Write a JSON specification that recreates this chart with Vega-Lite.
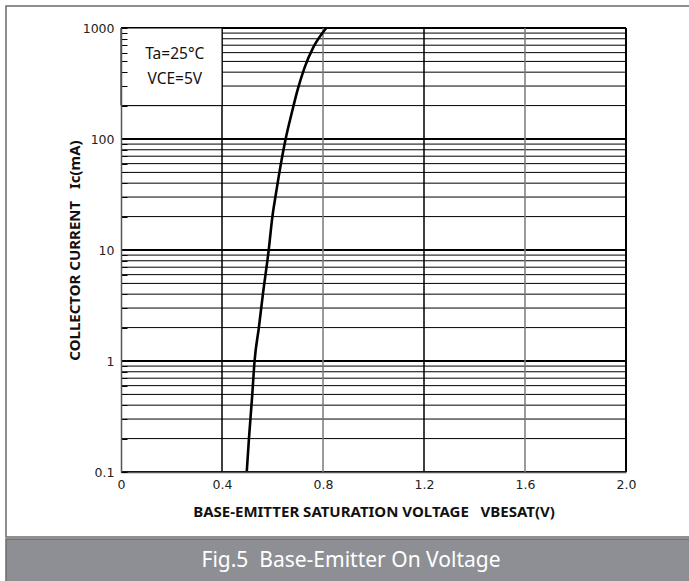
{
  "$schema": "https://vega.github.io/schema/vega-lite/v6.json",
  "background": "white",
  "padding": {"left": 5, "top": 5, "right": 0, "bottom": 0},
  "spacing": 0,
  "config": {"view": {"stroke": null}},
  "vconcat": [
    {
      "width": 684,
      "height": 531,
      "view": {"fill": "white", "stroke": "#6b6b6b", "strokeWidth": 1.5},
      "layer": [
        {
          "data": {"values": [
            {"v": 0.1}, {"v": 0.2}, {"v": 0.3}, {"v": 0.4}, {"v": 0.5}, {"v": 0.6}, {"v": 0.7}, {"v": 0.8}, {"v": 0.9},
            {"v": 1}, {"v": 2}, {"v": 3}, {"v": 4}, {"v": 5}, {"v": 6}, {"v": 7}, {"v": 8}, {"v": 9},
            {"v": 10}, {"v": 20}, {"v": 30}, {"v": 40}, {"v": 50}, {"v": 60}, {"v": 70}, {"v": 80}, {"v": 90},
            {"v": 100}, {"v": 200}, {"v": 300}, {"v": 400}, {"v": 500}, {"v": 600}, {"v": 700}, {"v": 800}, {"v": 900},
            {"v": 1000}
          ]},
          "mark": {"type": "rule", "color": "black"},
          "encoding": {
            "y": {"field": "v", "type": "quantitative",
              "scale": {"type": "log", "domain": [0.1, 1000], "range": [466, 22], "nice": false},
              "axis": {
                "orient": "left", "offset": -115, "zindex": 1,
                "values": [0.1,0.2,0.3,0.4,0.5,0.6,0.7,0.8,0.9,1,2,3,4,5,6,7,8,9,10,20,30,40,50,60,70,80,90,100,200,300,400,500,600,700,800,900,1000],
                "labelExpr": "indexof(['0.1','1','10','100','1000'], format(datum.value, '~g')) >= 0 ? format(datum.value, '~g') : ''",
                "labelOverlap": false, "labelBound": false, "labelFlush": false,
                "labelFont": "DejaVu Sans", "labelFontSize": 12.5, "labelColor": "#222", "labelPadding": 13,
                "tickSize": -6, "tickColor": "black", "tickWidth": 1,
                "domainColor": "#555", "domainWidth": 1.5,
                "grid": false,
                "title": "COLLECTOR CURRENT\u00a0\u00a0 Ic(mA)",
                "titleFont": "Noto Sans", "titleFontSize": 15, "titleFontWeight": "bold", "titleColor": "#111", "titlePadding": 0
              }
            },
            "x": {"datum": 0, "type": "quantitative",
              "scale": {"domain": [0, 2], "range": [115, 620], "nice": false, "zero": false},
              "axis": {
                "orient": "bottom", "offset": -65, "zindex": 1,
                "values": [0, 0.4, 0.8, 1.2, 1.6, 2.0],
                "labelExpr": "datum.value == 0 ? '0' : format(datum.value, '.1f')",
                "labelFlush": false, "labelBound": false,
                "labelFont": "DejaVu Sans", "labelFontSize": 12.5, "labelColor": "#222", "labelPadding": 6,
                "ticks": false, "domainColor": "#555", "domainWidth": 1.5, "grid": false,
                "title": "BASE-EMITTER SATURATION VOLTAGE\u00a0\u00a0 VBESAT(V)",
                "titleFont": "Noto Sans", "titleFontSize": 15, "titleFontWeight": "bold", "titleColor": "#111", "titlePadding": 14
              }
            },
            "x2": {"datum": 2},
            "strokeWidth": {"condition": {"test": "datum.v == 0.1 || datum.v == 1 || datum.v == 10 || datum.v == 100 || datum.v == 1000", "value": 2.2}, "value": 1}
          }
        },
        {
          "data": {"values": [{"v": 0.4}, {"v": 0.8}, {"v": 1.2}, {"v": 1.6}, {"v": 2.0}]},
          "mark": {"type": "rule"},
          "encoding": {
            "x": {"field": "v", "type": "quantitative"},
            "y": {"datum": 0.1},
            "y2": {"datum": 1000},
            "color": {"condition": {"test": "datum.v == 0.8 || datum.v == 1.6", "value": "#7a7a7a"}, "value": "black"},
            "strokeWidth": {"condition": {"test": "datum.v == 2", "value": 2}, "value": 1.5}
          }
        },
        {
          "data": {"values": [{"box": "conditions"}]},
          "mark": {"type": "rect", "fill": "white", "stroke": "black", "strokeWidth": 1},
          "encoding": {
            "x": {"datum": 0}, "x2": {"datum": 0.4},
            "y": {"datum": 200}, "y2": {"datum": 1000}
          }
        },
        {
          "data": {"values": [
            {"x": 0.213, "y": 583, "label": "Ta=25°C"},
            {"x": 0.213, "y": 347, "label": "VCE=5V"}
          ]},
          "mark": {"type": "text", "font": "Noto Sans", "fontSize": 15.5, "color": "#111", "align": "center", "baseline": "middle"},
          "encoding": {
            "x": {"field": "x", "type": "quantitative"},
            "y": {"field": "y", "type": "quantitative"},
            "text": {"field": "label"}
          }
        },
        {
          "data": {"values": [
            {"V": 0.498, "I": 0.1},
            {"V": 0.507, "I": 0.204},
            {"V": 0.519, "I": 0.467},
            {"V": 0.529, "I": 1},
            {"V": 0.546, "I": 2},
            {"V": 0.562, "I": 4},
            {"V": 0.585, "I": 10},
            {"V": 0.599, "I": 19.5},
            {"V": 0.611, "I": 29.6},
            {"V": 0.626, "I": 48},
            {"V": 0.652, "I": 100},
            {"V": 0.675, "I": 167},
            {"V": 0.698, "I": 270},
            {"V": 0.727, "I": 440},
            {"V": 0.761, "I": 665},
            {"V": 0.813, "I": 1000}
          ]},
          "mark": {"type": "line", "color": "black", "strokeWidth": 2.6, "interpolate": "monotone"},
          "encoding": {
            "x": {"field": "V", "type": "quantitative"},
            "y": {"field": "I", "type": "quantitative"}
          }
        }
      ]
    },
    {
      "width": 684,
      "height": 43,
      "view": {"fill": "#8e8f94", "stroke": "#6b6b6b", "strokeWidth": 1.5},
      "data": {"values": [{"caption": "Fig.5\u00a0 Base-Emitter On Voltage"}]},
      "mark": {"type": "text", "color": "white", "font": "Noto Sans", "fontSize": 21, "baseline": "middle", "align": "center", "dx": 3},
      "encoding": {"text": {"field": "caption"}}
    }
  ]
}
